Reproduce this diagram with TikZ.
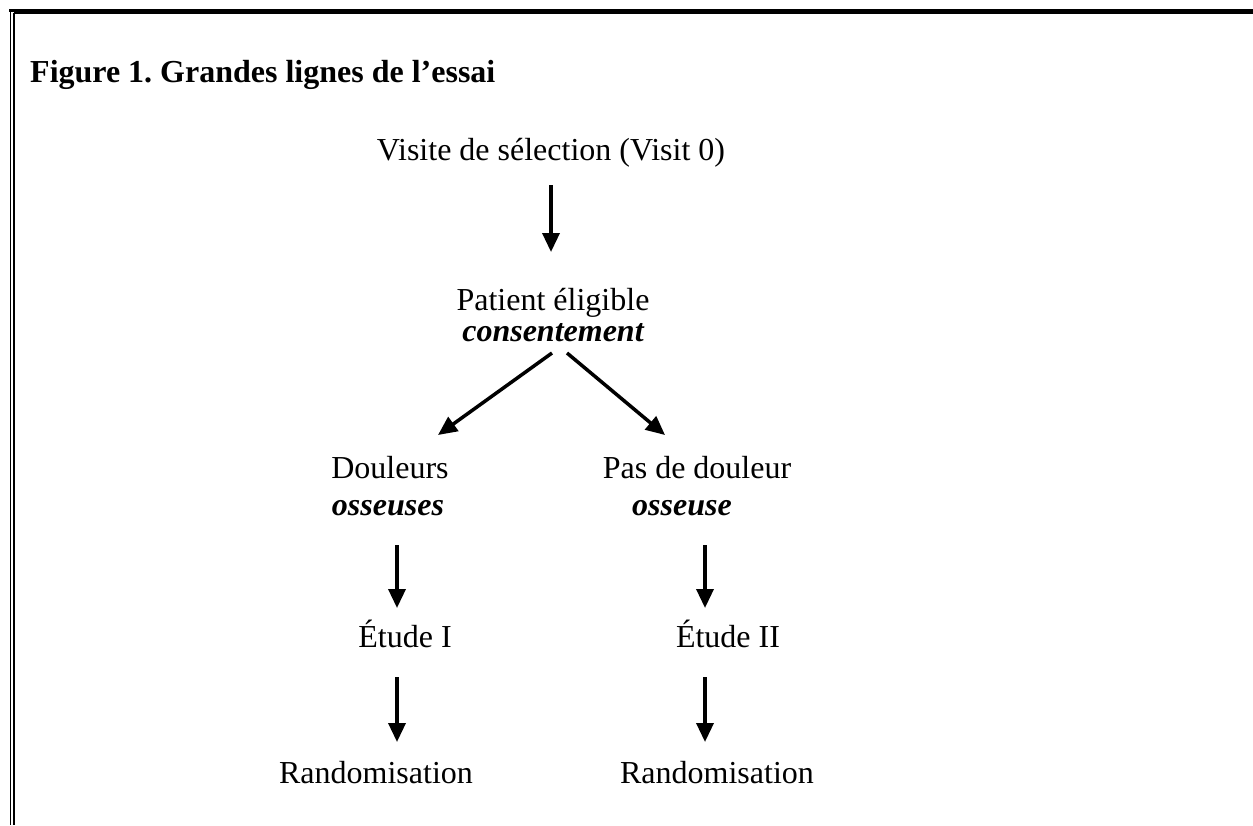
\documentclass[tikz,border=0pt]{standalone}
\usepackage{fontspec}
\setmainfont{Liberation Serif}
\usetikzlibrary{arrows.meta}
\frenchspacing
\begin{document}
\begin{tikzpicture}[x=1pt,y=-1pt,
  lbl/.style={anchor=base,inner sep=0pt,font=\fontsize{32}{38}\selectfont},
  emph/.style={lbl,font=\fontsize{32}{38}\selectfont\bfseries\itshape},
  flow/.style={line width=3.5pt,-{Triangle[length=19pt,width=17pt]}},
  thickrule/.style={line width=2.4pt},
  thinrule/.style={line width=1.1pt}]
\useasboundingbox (0,0) rectangle (1253,825);
% border (top and left only)
\draw[thickrule] (9.3,10.5) -- (1253,10.5);
\draw[thinrule] (13.5,13) -- (1253,13);
\draw[thinrule] (10.8,10) -- (10.8,825);
\draw[thickrule] (14,13) -- (14,825);
% title
\node[lbl,anchor=base west,font=\fontsize{32}{38}\selectfont\bfseries] (title) at (30,82) {Figure 1. Grandes lignes de l’essai};
% nodes
\node[lbl] (visite) at (551,160) {Visite de sélection (Visit 0)};
\node[lbl] (patient) at (553,310) {Patient éligible};
\node[emph] (consent) at (553,341) {consentement};
\node[lbl] (douleurs) at (390,478) {Douleurs};
\node[emph] (osseusesL) at (388,515) {osseuses};
\node[lbl] (pas) at (697,478) {Pas de douleur};
\node[emph] (osseuseR) at (682,515) {osseuse};
\node[lbl] (etude1) at (405,647) {Étude I};
\node[lbl] (etude2) at (728,647) {Étude II};
\node[lbl] (rand1) at (376,783) {Randomisation};
\node[lbl] (rand2) at (717,783) {Randomisation};
% connector ends
\coordinate (a1s) at (551,185); \coordinate (a1e) at (551,252);
\coordinate (dls) at (552,353); \coordinate (dle) at (438,435);
\coordinate (drs) at (567,353); \coordinate (dre) at (665,435);
\coordinate (l1s) at (397,545); \coordinate (l1e) at (397,608);
\coordinate (r1s) at (705,545); \coordinate (r1e) at (705,608);
\coordinate (l2s) at (397,677); \coordinate (l2e) at (397,742);
\coordinate (r2s) at (705,677); \coordinate (r2e) at (705,742);
\draw[flow] (a1s) -- (a1e);
\draw[flow] (dls) -- (dle);
\draw[flow] (drs) -- (dre);
\draw[flow] (l1s) -- (l1e);
\draw[flow] (r1s) -- (r1e);
\draw[flow] (l2s) -- (l2e);
\draw[flow] (r2s) -- (r2e);
\end{tikzpicture}
\end{document}
